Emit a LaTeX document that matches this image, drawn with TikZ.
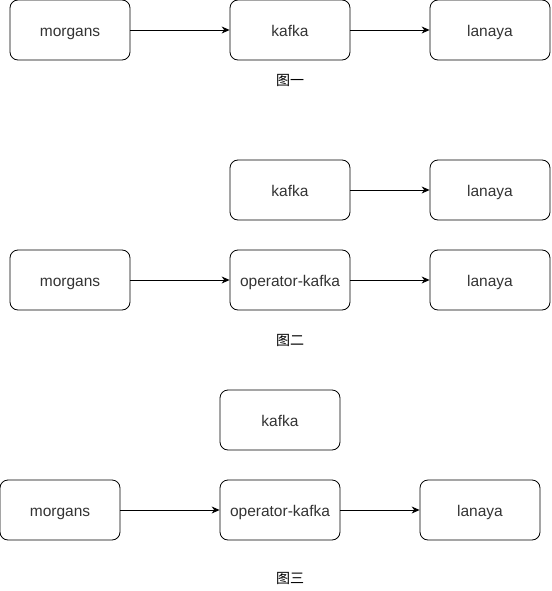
\documentclass[tikz,border=0pt]{standalone}
\usepackage{fontspec}
\setmainfont{Liberation Sans}
\newfontfamily\cjk{Noto Sans CJK SC}
\usetikzlibrary{arrows.meta}

\begin{document}
\begin{tikzpicture}[x=1pt,y=-1pt,
  box/.style={draw,rounded corners=8pt,line width=0.8pt,minimum width=120pt,minimum height=60pt,inner sep=0pt,
    text height=14pt,text depth=0.5pt,text=black!80,font=\fontsize{15.5}{18}\selectfont},
  figlabel/.style={font=\cjk\fontsize{14}{16}\selectfont},
  every path/.style={line width=0.8pt}]
\useasboundingbox (0,0) rectangle (551,591);
% figure one
\node[box] (m1) at (70,30) {morgans};
\node[box] (k1) at (290,30) {kafka};
\node[box] (l1) at (490,30) {lanaya};
\node[figlabel] (c1) at (290,80) {图一};
\draw [-{Stealth[length=8pt,width=7pt]}] (m1) -- (k1);
\draw [-{Stealth[length=8pt,width=7pt]}] (k1) -- (l1);
% figure two
\node[box] (k2) at (290,190) {kafka};
\node[box] (l2) at (490,190) {lanaya};
\node[box] (m2) at (70,280) {morgans};
\node[box] (o2) at (290,280) {operator-kafka};
\node[box] (l2b) at (490,280) {lanaya};
\node[figlabel] (c2) at (290,340) {图二};
\draw [-{Stealth[length=8pt,width=7pt]}] (k2) -- (l2);
\draw [-{Stealth[length=8pt,width=7pt]}] (m2) -- (o2);
\draw [-{Stealth[length=8pt,width=7pt]}] (o2) -- (l2b);
% figure three
\node[box] (k3) at (280,420) {kafka};
\node[box] (m3) at (60,510) {morgans};
\node[box] (o3) at (280,510) {operator-kafka};
\node[box] (l3) at (480,510) {lanaya};
\node[figlabel] (c3) at (290,578) {图三};
\draw [-{Stealth[length=8pt,width=7pt]}] (m3) -- (o3);
\draw [-{Stealth[length=8pt,width=7pt]}] (o3) -- (l3);
\end{tikzpicture}
\end{document}
